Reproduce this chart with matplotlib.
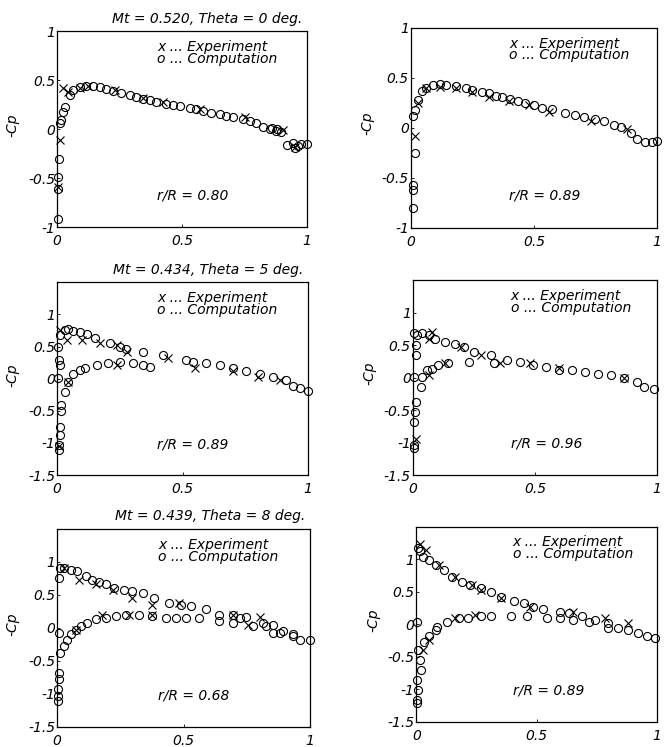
import matplotlib
matplotlib.use("Agg")
import matplotlib.pyplot as plt

plt.rcParams['font.family'] = ['DejaVu Sans']
plt.rcParams['font.style'] = 'italic'
plt.rcParams['font.size'] = 10
plt.rcParams['axes.unicode_minus'] = False

# ---- data (x/c, -Cp) ----
p1_exp_x = [0.004, 0.011, 0.024, 0.044, 0.09, 0.124, 0.23, 0.344, 0.424, 0.57, 0.75, 0.904, 0.95]
p1_exp_y = [-0.59, -0.11, 0.42, 0.38, 0.42, 0.44, 0.40, 0.316, 0.28, 0.21, 0.12, -0.01, -0.18]
p1_cmp_x = [0.004, 0.004, 0.004, 0.008, 0.011, 0.017, 0.024, 0.031, 0.05, 0.064, 0.09, 0.117, 0.144,
            0.17, 0.197, 0.224, 0.257, 0.29, 0.317, 0.344, 0.37, 0.397, 0.437, 0.464, 0.49, 0.53,
            0.557, 0.584, 0.617, 0.65, 0.677, 0.704, 0.744, 0.77, 0.797, 0.824, 0.85, 0.877, 0.897,
            0.944, 0.964, 0.977, 1.0, 0.86, 0.88, 0.92, 0.95]
p1_cmp_y = [-0.915, -0.607, -0.487, -0.30, 0.06, 0.094, 0.18, 0.23, 0.35, 0.40, 0.43, 0.443, 0.443,
            0.43, 0.41, 0.395, 0.374, 0.35, 0.327, 0.31, 0.30, 0.28, 0.258, 0.248, 0.238, 0.213,
            0.203, 0.186, 0.17, 0.156, 0.138, 0.121, 0.10, 0.087, 0.06, 0.026, 0.0, -0.02, -0.03,
            -0.145, -0.17, -0.15, -0.15, 0.01, 0.0, -0.16, -0.19]

p2_exp_x = [0.016, 0.03, 0.06, 0.116, 0.183, 0.25, 0.317, 0.4, 0.48, 0.56, 0.73, 0.88]
p2_exp_y = [-0.083, 0.25, 0.40, 0.41, 0.40, 0.357, 0.31, 0.27, 0.223, 0.157, 0.067, -0.017]
p2_cmp_x = [0.009, 0.009, 0.009, 0.016, 0.009, 0.016, 0.029, 0.043, 0.063, 0.09, 0.116, 0.143,
            0.183, 0.224, 0.25, 0.29, 0.317, 0.344, 0.371, 0.404, 0.437, 0.464, 0.498, 0.531,
            0.572, 0.625, 0.665, 0.705, 0.746, 0.786, 0.826, 0.853, 0.893, 0.92, 0.953, 0.98, 1.0]
p2_cmp_y = [-0.8, -0.62, -0.57, -0.25, 0.12, 0.18, 0.28, 0.37, 0.40, 0.43, 0.44, 0.43,
            0.42, 0.40, 0.377, 0.357, 0.343, 0.32, 0.31, 0.29, 0.267, 0.25, 0.223, 0.2,
            0.19, 0.15, 0.123, 0.11, 0.083, 0.067, 0.023, 0.01, -0.05, -0.117, -0.143, -0.143, -0.133]

p3_exp_x = [0.011, 0.04, 0.1, 0.17, 0.24, 0.28, 0.44, 0.55, 0.7, 0.8, 0.89, 0.044, 0.24, 0.008]
p3_exp_y = [0.76, 0.6, 0.6, 0.55, 0.52, 0.42, 0.32, 0.16, 0.12, 0.03, -0.02, -0.05, 0.21, -1.05]
p3_cmp_x = [0.011, 0.031, 0.044, 0.064, 0.09, 0.117, 0.15, 0.21, 0.25, 0.276, 0.343, 0.422,
            0.515, 0.542, 0.595, 0.648, 0.701, 0.754, 0.807, 0.861, 0.914, 0.94, 0.967, 1.0,
            0.004, 0.008, 0.011, 0.004, 0.031, 0.017, 0.017, 0.011, 0.011, 0.008, 0.008,
            0.044, 0.064, 0.09, 0.11, 0.157, 0.203, 0.25, 0.303, 0.343, 0.369]
p3_cmp_y = [0.68, 0.76, 0.78, 0.74, 0.72, 0.69, 0.64, 0.55, 0.5, 0.47, 0.42, 0.37,
            0.29, 0.265, 0.24, 0.21, 0.17, 0.12, 0.08, 0.03, -0.02, -0.12, -0.14, -0.19,
            0.5, 0.29, 0.21, 0.005, -0.2, -0.41, -0.51, -0.75, -0.88, -1.03, -1.11,
            -0.05, 0.08, 0.14, 0.16, 0.21, 0.24, 0.265, 0.24, 0.21, 0.19]

p4_exp_x = [0.011, 0.078, 0.064, 0.198, 0.278, 0.358, 0.479, 0.599, 0.866, 0.064, 0.131]
p4_exp_y = [-0.94, 0.7, 0.6, 0.47, 0.35, 0.22, 0.22, 0.15, -0.01, 0.04, 0.22]
p4_cmp_x = [0.004, 0.017, 0.037, 0.064, 0.091, 0.131, 0.171, 0.211, 0.251, 0.318, 0.332, 0.385,
            0.439, 0.492, 0.545, 0.599, 0.652, 0.706, 0.759, 0.813, 0.866, 0.92, 0.947, 0.987,
            0.004, 0.011, 0.013, 0.031, 0.037, 0.057, 0.078, 0.104, 0.144, 0.231,
            0.011, 0.008, 0.004, 0.004, 0.004]
p4_cmp_y = [0.68, 0.65, 0.69, 0.65, 0.60, 0.55, 0.51, 0.47, 0.40, 0.35, 0.22, 0.27,
            0.24, 0.19, 0.17, 0.12, 0.12, 0.09, 0.06, 0.04, -0.01, -0.06, -0.14, -0.18,
            0.01, 0.35, 0.5, -0.14, 0.01, 0.12, 0.14, 0.19, 0.22, 0.24,
            -0.37, -0.53, -0.68, -1.04, -1.09]

p5_exp_x = [0.026, 0.086, 0.152, 0.219, 0.298, 0.377, 0.483, 0.695, 0.801, 0.755, 0.179, 0.285, 0.377, 0.073]
p5_exp_y = [0.91, 0.73, 0.66, 0.58, 0.45, 0.35, 0.38, 0.2, 0.17, 0.05, 0.2, 0.19, 0.2, -0.03]
p5_cmp_x = [0.007, 0.013, 0.026, 0.053, 0.079, 0.113, 0.139, 0.166, 0.192, 0.225, 0.265, 0.298,
            0.338, 0.384, 0.444, 0.49, 0.53, 0.589, 0.642, 0.695, 0.722, 0.748, 0.815, 0.854,
            0.894, 0.934, 1.0,
            0.007, 0.013, 0.026, 0.04, 0.053, 0.073, 0.093, 0.119, 0.152, 0.192, 0.232, 0.272,
            0.325, 0.377, 0.43, 0.47, 0.51, 0.563, 0.642, 0.695, 0.775, 0.828, 0.854, 0.881,
            0.934, 0.96,
            0.007, 0.007, 0.004, 0.004, 0.004]
p5_cmp_y = [0.76, 0.91, 0.91, 0.88, 0.86, 0.78, 0.73, 0.69, 0.66, 0.61, 0.58, 0.56,
            0.53, 0.45, 0.38, 0.34, 0.33, 0.28, 0.2, 0.19, 0.15, 0.17, 0.08, 0.04,
            -0.05, -0.1, -0.18,
            -0.08, -0.38, -0.28, -0.18, -0.1, -0.03, 0.03, 0.08, 0.13, 0.15, 0.18, 0.19,
            0.19, 0.18, 0.15, 0.15, 0.15, 0.15, 0.1, 0.08, 0.03, 0.03, -0.08, -0.08,
            -0.13, -0.18,
            -0.68, -0.78, -0.93, -1.04, -1.11]

p6_exp_x = [0.014, 0.041, 0.095, 0.162, 0.23, 0.27, 0.351, 0.473, 0.649, 0.784, 0.878, 0.243, 0.162, 0.054, 0.027]
p6_exp_y = [1.24, 1.14, 0.91, 0.73, 0.6, 0.53, 0.4, 0.27, 0.19, 0.09, 0.01, 0.14, 0.09, -0.24, -0.4]
p6_cmp_x = [0.007, 0.014, 0.027, 0.054, 0.081, 0.115, 0.149, 0.189, 0.223, 0.27, 0.311, 0.351,
            0.405, 0.446, 0.486, 0.527, 0.595, 0.635, 0.689, 0.743, 0.797, 0.838, 0.878, 0.919,
            0.959, 0.993,
            0.003, 0.007, 0.014, 0.02, 0.034, 0.054, 0.081, 0.088, 0.128, 0.176, 0.216, 0.27,
            0.311, 0.392, 0.459, 0.541, 0.595, 0.649, 0.716, 0.797,
            0.003, 0.007, 0.003, 0.003]
p6_cmp_y = [1.17, 1.12, 1.04, 0.99, 0.91, 0.83, 0.73, 0.65, 0.6, 0.55, 0.5, 0.42,
            0.35, 0.32, 0.27, 0.24, 0.19, 0.17, 0.12, 0.06, 0.01, -0.06, -0.09, -0.14,
            -0.19, -0.22,
            0.04, -0.4, -0.55, -0.7, -0.27, -0.19, -0.09, -0.04, 0.04, 0.09, 0.1, 0.13,
            0.13, 0.13, 0.12, 0.09, 0.09, 0.06, 0.04, -0.06,
            -0.86, -1.01, -1.17, -1.22]

radii = ["0.80", "0.89", "0.89", "0.96", "0.68", "0.89"]
titles = ["Mt = 0.520, Theta = 0 deg.", None, "Mt = 0.434, Theta = 5 deg.", None,
          "Mt = 0.439, Theta = 8 deg.", None]

panels = [
    (p1_exp_x, p1_exp_y, p1_cmp_x, p1_cmp_y),
    (p2_exp_x, p2_exp_y, p2_cmp_x, p2_cmp_y),
    (p3_exp_x, p3_exp_y, p3_cmp_x, p3_cmp_y),
    (p4_exp_x, p4_exp_y, p4_cmp_x, p4_cmp_y),
    (p5_exp_x, p5_exp_y, p5_cmp_x, p5_cmp_y),
    (p6_exp_x, p6_exp_y, p6_cmp_x, p6_cmp_y),
]

rects = [
    [0.086, 0.696, 0.376, 0.262],
    [0.618, 0.695, 0.370, 0.268],
    [0.086, 0.364, 0.377, 0.258],
    [0.621, 0.364, 0.367, 0.261],
    [0.086, 0.027, 0.380, 0.265],
    [0.626, 0.034, 0.362, 0.261],
]

fig = plt.figure(figsize=(6.65, 7.47), dpi=100)

for i, (ex, ey, cx, cy) in enumerate(panels):
    ax = fig.add_axes(rects[i])
    ax.plot(cx, cy, 'o', mfc='none', mec='k', ms=5.8, mew=0.8, clip_on=False)
    ax.plot(ex, ey, 'x', color='k', ms=6, mew=0.8, clip_on=False)

    ax.set_xlim(0, 1)
    ax.set_xticks([0, 0.5, 1])
    ax.set_xticklabels(['0', '0.5', '1'])
    if i < 2:
        ax.set_ylim(-1, 1)
        ax.set_yticks([-1, -0.5, 0, 0.5, 1])
        ax.set_yticklabels(['-1', '-0.5', '0', '0.5', '1'])
    else:
        ax.set_ylim(-1.5, 1.5)
        ax.set_yticks([-1.5, -1, -0.5, 0, 0.5, 1])
        ax.set_yticklabels(['-1.5', '-1', '-0.5', '0', '0.5', '1'])

    ax.tick_params(direction='in', length=2, width=0.6, labelsize=10)
    ax.tick_params(axis='y', pad=1.5)
    ax.tick_params(axis='x', pad=5)
    for sp in ax.spines.values():
        sp.set_linewidth(0.9)

    ax.set_ylabel('-Cp', fontsize=10)
    ax.yaxis.set_label_coords(-0.15, 0.52)

    ax.text(0.40, 0.955, "x ... Experiment\no ... Computation", transform=ax.transAxes,
            ha='left', va='top', fontsize=10, linespacing=0.8)
    ax.text(0.40, 0.16, "r/R = " + radii[i], transform=ax.transAxes,
            ha='left', va='center', fontsize=10)
    if titles[i]:
        ax.text(0.98, 1.03, titles[i], transform=ax.transAxes,
                ha='right', va='bottom', fontsize=10)

fig.savefig("out.png", dpi=100)
